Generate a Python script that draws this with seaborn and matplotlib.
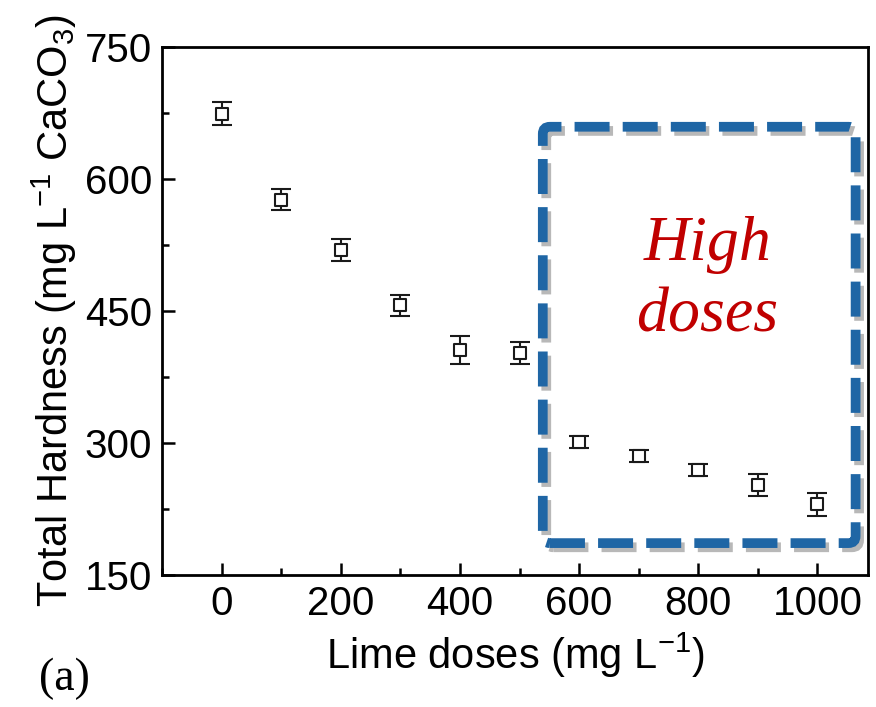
import numpy as np
import pandas as pd
import matplotlib
matplotlib.use('Agg')
import matplotlib.pyplot as plt
import seaborn as sns
from matplotlib.patches import FancyBboxPatch
from matplotlib.ticker import MultipleLocator
import matplotlib.patheffects as pe

# Data
lime_doses = [0, 100, 200, 300, 400, 500, 600, 700, 800, 900, 1000]
hardness = [674, 576, 519, 456, 405, 402, 301, 285, 269, 252, 230]
hardness_err = [13, 12, 12, 12, 16, 13, 7, 7, 7, 12, 13]

x_ticks = [0, 200, 400, 600, 800, 1000]
y_ticks = [150, 300, 450, 600, 750]

df = pd.DataFrame({'dose': lime_doses, 'hardness': hardness, 'err': hardness_err})

sns.set_theme(style='ticks')
plt.rcParams['font.family'] = ['Liberation Sans', 'DejaVu Sans']
plt.rcParams['mathtext.fontset'] = 'custom'
plt.rcParams['mathtext.rm'] = 'Liberation Sans'
plt.rcParams['text.color'] = 'black'
plt.rcParams['axes.labelcolor'] = 'black'
plt.rcParams['xtick.color'] = 'black'
plt.rcParams['ytick.color'] = 'black'

fig = plt.figure(figsize=(8.76, 7.07), dpi=100)
ax = fig.add_axes([0.185, 0.187, 0.806, 0.747])

# Error bars first, then open square markers on top
ax.errorbar(df['dose'], df['hardness'], yerr=df['err'], fmt='none',
            ecolor='#1a1a1a', elinewidth=1.5, capsize=7, capthick=1.5, zorder=2)
sns.scatterplot(data=df, x='dose', y='hardness', marker='s', s=80,
                facecolor='white', edgecolor='#1a1a1a', linewidth=1.5,
                ax=ax, zorder=3, legend=False)

ax.set_xlim(-100, 1085)
ax.set_ylim(150, 750)
ax.set_xticks(x_ticks)
ax.set_yticks(y_ticks)
ax.xaxis.set_minor_locator(MultipleLocator(100))
ax.yaxis.set_minor_locator(MultipleLocator(75))
ax.tick_params(which='both', direction='in', width=1.8, top=False, right=False,
               labelsize=29, pad=7, colors='black')
ax.tick_params(which='major', length=9)
ax.tick_params(which='minor', length=5)
for side in ['left', 'right', 'top', 'bottom']:
    ax.spines[side].set_visible(True)
    ax.spines[side].set_linewidth(2.0)
    ax.spines[side].set_color('black')

ax.set_xlabel('Lime doses (mg L$^{-1}$)', fontsize=30, labelpad=6)
ax.set_ylabel('Total Hardness (mg L$^{-1}$ CaCO$_3$)', fontsize=30, labelpad=4)

# Dashed "high doses" box with a soft grey shadow
box = FancyBboxPatch((539, 186), 1064 - 539, 659 - 186,
                     boxstyle='round,pad=0,rounding_size=12',
                     mutation_aspect=0.68,
                     fill=False, edgecolor='#1f66a5', linewidth=7,
                     linestyle=(0, (3.6, 1.35)), capstyle='butt',
                     zorder=4)
box.set_path_effects([pe.SimpleLineShadow(offset=(2.5, -3), shadow_color='#9a9a9a', alpha=0.7),
                      pe.Normal()])
ax.add_patch(box)

ax.text(815, 525, 'High', color='#c00000', fontsize=46, style='italic',
        family=['Liberation Serif', 'DejaVu Serif'], ha='center', va='center', zorder=5)
ax.text(815, 444, 'doses', color='#c00000', fontsize=46, style='italic',
        family=['Liberation Serif', 'DejaVu Serif'], ha='center', va='center', zorder=5)

fig.text(0.045, 0.04, '(a)', fontsize=33, family=['Liberation Serif', 'DejaVu Serif'],
         ha='left', va='center')

fig.savefig('out.png', dpi=100)
